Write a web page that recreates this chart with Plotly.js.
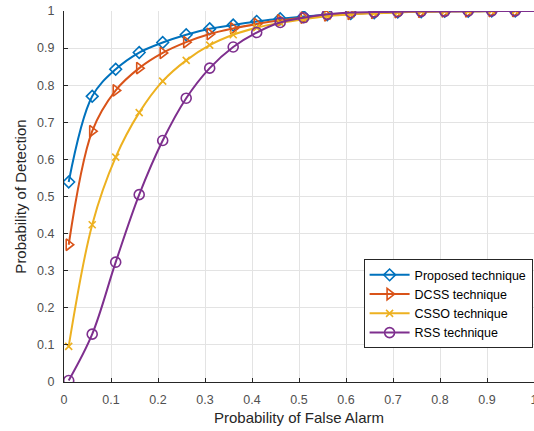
<!DOCTYPE html>
<html>
<head>
<meta charset="utf-8">
<script src="https://cdn.plot.ly/plotly-3.0.1.min.js"></script>
<style>html,body{margin:0;padding:0;background:#fff;}#chart{width:534px;height:431px;}</style>
</head>
<body>
<div id="chart"></div>
<script>
// Probability of False Alarm (marker positions)
const pfa = [0.01,0.06,0.11,0.16,0.21,0.26,0.31,0.36,0.41,0.46,0.51,0.56,0.61,0.66,0.71,0.76,0.81,0.86,0.91,0.96];
// end of the curves
const pfaEnd = 1.0;
// Probability of Detection per technique
const pdProposed = [0.539,0.770,0.843,0.888,0.915,0.936,0.952,0.962,0.972,0.979,0.985,0.990,0.993,0.995,0.997,0.998,0.999,0.999,1.000,1.000];
const pdDCSS     = [0.370,0.676,0.786,0.846,0.887,0.916,0.938,0.953,0.965,0.975,0.982,0.988,0.992,0.995,0.997,0.998,0.999,0.999,1.000,1.000];
const pdCSSO     = [0.096,0.424,0.606,0.726,0.811,0.867,0.908,0.936,0.955,0.968,0.978,0.986,0.991,0.994,0.996,0.998,0.999,0.999,1.000,1.000];
const pdRSS      = [0.004,0.129,0.323,0.505,0.651,0.765,0.846,0.903,0.942,0.969,0.982,0.991,0.996,0.997,0.998,0.999,0.999,1.000,1.000,1.000];
const pdEnd = 1.0;

const names = ['Proposed technique','DCSS technique','CSSO technique','RSS technique'];
const series = [pdProposed, pdDCSS, pdCSSO, pdRSS];
const colors = ['#0072BD','#D95319','#EDB120','#7E2F8E'];
const symbols = ['diamond-open','triangle-right-open','x-thin-open','circle-open'];
const sizes = [9,10,7,10];

const traces = [];
series.forEach((ys, i) => {
  // tail segment from last marker to x=1
  traces.push({
    x: [pfa[pfa.length-1], pfaEnd], y: [ys[ys.length-1], pdEnd],
    mode: 'lines', line: {color: colors[i], width: 2},
    showlegend: false, hoverinfo: 'skip'
  });
  traces.push({
    x: pfa, y: ys, name: names[i],
    mode: 'lines+markers',
    line: {color: colors[i], width: 2, shape: 'spline', smoothing: 1},
    marker: {symbol: symbols[i], size: sizes[i], color: colors[i],
             line: {color: colors[i], width: 1.6}}
  });
});

const font = 'Liberation Sans, Arial, Helvetica, sans-serif';
const layout = {
  width: 534, height: 431,
  margin: {l: 64, r: 0, t: 11, b: 49},
  paper_bgcolor: '#fff', plot_bgcolor: '#fff',
  font: {family: font, size: 12, color: '#505050'},
  showlegend: true,
  xaxis: {
    range: [0, 1], dtick: 0.1, tick0: 0,
    showgrid: true, gridcolor: '#e3e3e3', gridwidth: 1,
    zeroline: false, showline: true, linecolor: '#262626', linewidth: 1,
    ticks: 'inside', ticklen: 4, tickcolor: '#262626',
    tickfont: {size: 12.5, color: '#505050'}, ticklabelstandoff: 6,
    ticklabeloverflow: 'allow',
    title: {text: 'Probability of False Alarm', font: {size: 15, color: '#262626'}, standoff: 6},
    fixedrange: true
  },
  yaxis: {
    range: [0, 1], dtick: 0.1, tick0: 0,
    showgrid: true, gridcolor: '#e3e3e3', gridwidth: 1,
    zeroline: false, showline: true, linecolor: '#262626', linewidth: 1,
    ticks: 'inside', ticklen: 4, tickcolor: '#262626',
    tickfont: {size: 12.5, color: '#505050'}, ticklabelstandoff: 6,
    ticklabeloverflow: 'allow',
    title: {text: 'Probability of Detection', font: {size: 15, color: '#262626'}, standoff: 6},
    fixedrange: true
  },
  legend: {
    x: 0.997, xanchor: 'right', y: 0.091, yanchor: 'bottom',
    bgcolor: '#fff', bordercolor: '#262626', borderwidth: 1,
    font: {size: 12.5, color: '#000'},
    tracegroupgap: 0, itemwidth: 40
  }
};

Plotly.newPlot('chart', traces, layout, {displayModeBar: false, staticPlot: true});
</script>
</body>
</html>
